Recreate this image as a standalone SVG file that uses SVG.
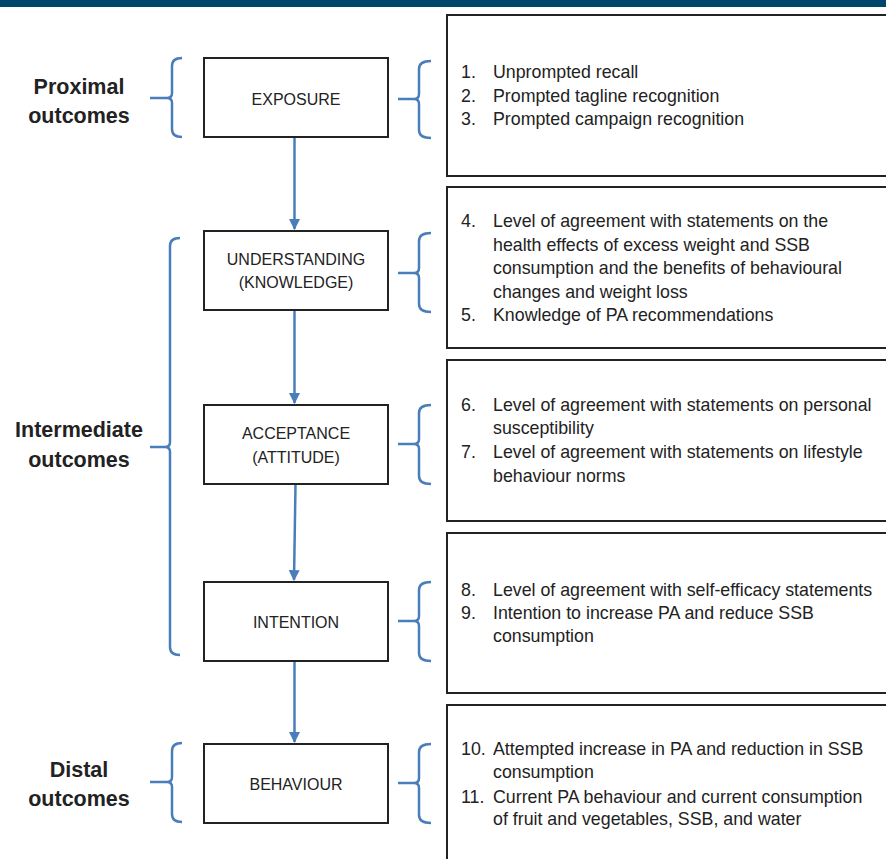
<svg xmlns="http://www.w3.org/2000/svg" width="886" height="859" viewBox="0 0 886 859">
<defs>
<style>
.bg{fill:#ffffff}
.node rect{fill:#ffffff;stroke:#222222;stroke-width:2}
.tbox{fill:#ffffff;stroke:#222222;stroke-width:2}
.lbl{font-family:"Liberation Sans",Arial,sans-serif;font-size:16px;fill:#222222;text-anchor:middle}
.item{font-family:"Liberation Sans",Arial,sans-serif;font-size:17.8px;fill:#222222}
.side{font-family:"Liberation Sans",Arial,sans-serif;font-size:21.5px;font-weight:bold;fill:#222222;text-anchor:middle}
.brace{fill:none;stroke:#4a7ebb;stroke-width:2.5}
.conn{fill:none;stroke:#4a7ebb;stroke-width:2.5}
</style>
<marker id="ah" viewBox="0 0 10 10" refX="9" refY="5" markerWidth="4.4" markerHeight="4.4" orient="auto" markerUnits="strokeWidth">
<path d="M0,0 L10,5 L0,10 Z" fill="#4a7ebb"/>
</marker>
</defs>
<rect class="bg" x="0" y="0" width="886" height="859"/>
<rect x="0" y="0" width="886" height="7" fill="#00466b"/>

<g id="side-labels">
<g id="label-proximal">
<text class="side" x="79" y="94">Proximal</text>
<text class="side" x="79" y="123">outcomes</text>
<path class="brace" d="M182,58 Q172,58 172,66 L172,93 Q172,98 167,98 L150,98 M167,98 Q172,98 172,103 L172,129 Q172,137 182,137"/>
</g>
<g id="label-intermediate">
<text class="side" x="79" y="437">Intermediate</text>
<text class="side" x="79" y="467">outcomes</text>
<path class="brace" d="M180,238 Q170,238 170,246 L170,442 Q170,447 165,447 L150,447 M165,447 Q170,447 170,452 L170,647 Q170,655 180,655"/>
</g>
<g id="label-distal">
<text class="side" x="79" y="777">Distal</text>
<text class="side" x="79" y="806">outcomes</text>
<path class="brace" d="M182,743 Q172,743 172,751 L172,777 Q172,782 167,782 L150,782 M167,782 Q172,782 172,787 L172,814 Q172,822 182,822"/>
</g>
</g>

<g id="exposure" class="node">
<rect x="204" y="58" width="184" height="79"/>
<text class="lbl" x="296" y="105">EXPOSURE</text>
</g>
<g id="understanding" class="node">
<rect x="204" y="231" width="184" height="79"/>
<text class="lbl" x="296" y="265">UNDERSTANDING</text>
<text class="lbl" x="296" y="288">(KNOWLEDGE)</text>
</g>
<g id="acceptance" class="node">
<rect x="204" y="405" width="184" height="79"/>
<text class="lbl" x="296" y="439">ACCEPTANCE</text>
<text class="lbl" x="296" y="463">(ATTITUDE)</text>
</g>
<g id="intention" class="node">
<rect x="204" y="582" width="184" height="79"/>
<text class="lbl" x="296" y="628">INTENTION</text>
</g>
<g id="behaviour" class="node">
<rect x="204" y="744" width="184" height="79"/>
<text class="lbl" x="296" y="790">BEHAVIOUR</text>
</g>

<g id="measures-exposure">
<path class="brace" d="M431,61 Q419,61 419,69 L419,94 Q419,99 414,99 L398,99 M414,99 Q419,99 419,104 L419,130 Q419,138 431,138"/>
<rect class="tbox" x="447" y="15" width="450" height="161"/>
<text class="item" x="461" y="78">1.</text><text class="item" x="493" y="78">Unprompted recall</text>
<text class="item" x="461" y="102">2.</text><text class="item" x="493" y="102">Prompted tagline recognition</text>
<text class="item" x="461" y="125">3.</text><text class="item" x="493" y="125">Prompted campaign recognition</text>
</g>
<g id="measures-understanding">
<path class="brace" d="M431,233 Q419,233 419,241 L419,268 Q419,273 414,273 L398,273 M414,273 Q419,273 419,278 L419,304 Q419,312 431,312"/>
<rect class="tbox" x="447" y="187" width="450" height="161"/>
<text class="item" x="461" y="227">4.</text><text class="item" x="493" y="227">Level of agreement with statements on the</text>
<text class="item" x="493" y="251">health effects of excess weight and SSB</text>
<text class="item" x="493" y="274">consumption and the benefits of behavioural</text>
<text class="item" x="493" y="298">changes and weight loss</text>
<text class="item" x="461" y="321">5.</text><text class="item" x="493" y="321">Knowledge of PA recommendations</text>
</g>
<g id="measures-acceptance">
<path class="brace" d="M431,405 Q419,405 419,413 L419,439 Q419,444 414,444 L398,444 M414,444 Q419,444 419,449 L419,476 Q419,484 431,484"/>
<rect class="tbox" x="447" y="360" width="450" height="161"/>
<text class="item" x="461" y="411">6.</text><text class="item" x="493" y="411">Level of agreement with statements on personal</text>
<text class="item" x="493" y="434">susceptibility</text>
<text class="item" x="461" y="458">7.</text><text class="item" x="493" y="458">Level of agreement with statements on lifestyle</text>
<text class="item" x="493" y="482">behaviour norms</text>
</g>
<g id="measures-intention">
<path class="brace" d="M431,582 Q419,582 419,590 L419,616 Q419,621 414,621 L398,621 M414,621 Q419,621 419,626 L419,653 Q419,661 431,661"/>
<rect class="tbox" x="447" y="533" width="450" height="160"/>
<text class="item" x="461" y="596">8.</text><text class="item" x="493" y="596">Level of agreement with self-efficacy statements</text>
<text class="item" x="461" y="619">9.</text><text class="item" x="493" y="619">Intention to increase PA and reduce SSB</text>
<text class="item" x="493" y="642">consumption</text>
</g>
<g id="measures-behaviour">
<path class="brace" d="M431,744 Q419,744 419,752 L419,778 Q419,783 414,783 L398,783 M414,783 Q419,783 419,788 L419,815 Q419,823 431,823"/>
<rect class="tbox" x="447" y="705" width="450" height="170"/>
<text class="item" x="461" y="755">10.</text><text class="item" x="493" y="755">Attempted increase in PA and reduction in SSB</text>
<text class="item" x="493" y="778">consumption</text>
<text class="item" x="461" y="803">11.</text><text class="item" x="493" y="803">Current PA behaviour and current consumption</text>
<text class="item" x="493" y="825">of fruit and vegetables, SSB, and water</text>
</g>

<g id="connectors">
<line class="conn" x1="294.5" y1="138" x2="294.5" y2="229" marker-end="url(#ah)"/>
<line class="conn" x1="294.5" y1="311" x2="294.5" y2="403" marker-end="url(#ah)"/>
<line class="conn" x1="295.5" y1="485" x2="294" y2="580" marker-end="url(#ah)"/>
<line class="conn" x1="294.5" y1="662" x2="294.5" y2="742" marker-end="url(#ah)"/>
</g>
</svg>
